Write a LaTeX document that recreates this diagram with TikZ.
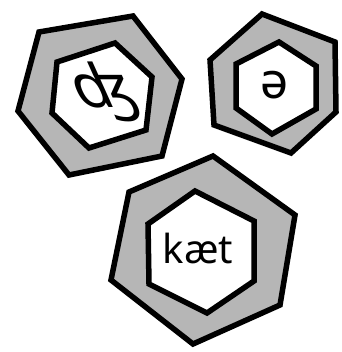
\documentclass[tikz,border=0pt]{standalone}
\usepackage{fontspec}
\setmainfont{Noto Sans}
\definecolor{hexgray}{RGB}{182,182,182}
\tikzset{
  outerhex/.style={draw=black, fill=hexgray, line width=5.5pt, line join=miter},
  innerhex/.style={draw=black, fill=white, line width=5.5pt, line join=miter},
  lbl/.style={inner sep=0pt, font=\fontsize{40}{40}\selectfont}
}
\begin{document}
\begin{tikzpicture}[x=1pt, y=-1pt]
\useasboundingbox (0,0) rectangle (341,352);
% hexagon 1
\draw[outerhex] (39,32) -- (133,16) -- (182,79) -- (162,156) -- (69,175) -- (18,111) -- cycle;
\draw[innerhex] (57,62) -- (115,43) -- (152,77) -- (146,130) -- (89,148) -- (52,113) -- cycle;
\node[lbl, font=\fontsize{60}{60}\selectfont, xslant=-0.45] (t1) at (104,92) {ʤ};
% hexagon 2
\draw[outerhex] (262,14) -- (335,42) -- (336,112) -- (291,153) -- (214,125) -- (210,60) -- cycle;
\draw[innerhex] (279,42) -- (316,66) -- (316,109) -- (272,134) -- (236,108) -- (236,64) -- cycle;
\node[lbl, font=\fontsize{50}{50}\selectfont] (t2) at (275,85) {ə};
% hexagon 3
\draw[outerhex] (213,156) -- (295,215) -- (280,305) -- (193,344) -- (111,280) -- (129,192) -- cycle;
\draw[innerhex] (195,191) -- (254,221) -- (254,281) -- (207,313) -- (149,284) -- (148,224) -- cycle;
\node[lbl] (t3) at (198,248) {kæt};
\end{tikzpicture}
\end{document}
